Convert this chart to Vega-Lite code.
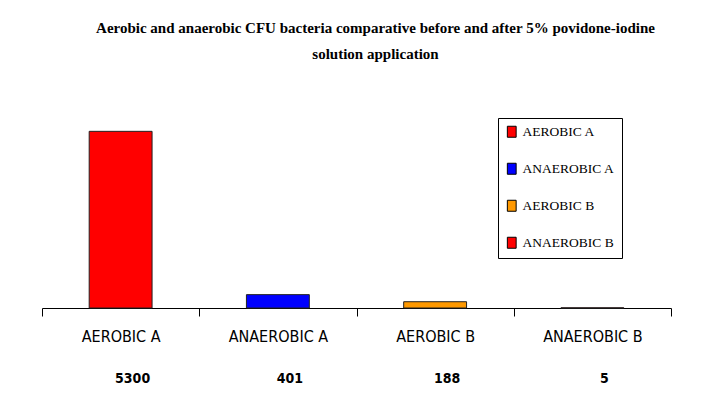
{
  "$schema": "https://vega.github.io/schema/vega-lite/v6.json",
  "width": 629,
  "height": 200,
  "padding": {"left": 41, "top": 21, "right": 50, "bottom": 5},
  "background": "white",
  "title": {
    "text": ["Aerobic and anaerobic CFU bacteria comparative before and after 5% povidone-iodine", "solution application"],
    "font": "Liberation Serif",
    "fontSize": 15,
    "fontWeight": "bold",
    "lineHeight": 26,
    "offset": 46,
    "dx": 19,
    "anchor": "middle",
    "color": "black"
  },
  "data": {
    "values": [
      {"group": "AEROBIC A", "cfu": 5300},
      {"group": "ANAEROBIC A", "cfu": 401},
      {"group": "AEROBIC B", "cfu": 188},
      {"group": "ANAEROBIC B", "cfu": 5}
    ]
  },
  "config": {
    "view": {"stroke": null},
    "axis": {"grid": false}
  },
  "encoding": {
    "x": {
      "field": "group",
      "type": "nominal",
      "sort": null,
      "scale": {"paddingInner": 0, "paddingOuter": 0},
      "axis": {
        "title": null,
        "labelAngle": 0,
        "labelFont": "DejaVu Sans Condensed, Liberation Sans",
        "labelFontSize": 16,
        "labelColor": "black",
        "labelPadding": 12,
        "ticks": true,
        "tickBand": "extent",
        "tickSize": 8,
        "tickWidth": 1,
        "tickColor": "black",
        "tickOpacity": 1,
        "domainColor": "black",
        "domainWidth": 1
      }
    }
  },
  "layer": [
    {
      "mark": {"type": "bar", "stroke": "#222222", "strokeWidth": 1, "width": {"band": 0.4}},
      "encoding": {
        "y": {"field": "cfu", "type": "quantitative", "scale": {"domain": [0, 6000]}, "axis": null},
        "color": {
          "field": "group",
          "type": "nominal",
          "sort": null,
          "scale": {
            "domain": ["AEROBIC A", "ANAEROBIC A", "AEROBIC B", "ANAEROBIC B"],
            "range": ["#FF0000", "#0000FF", "#FF9900", "#FF0000"]
          },
          "legend": {
            "title": null,
            "orient": "none",
            "legendX": 456,
            "legendY": 10,
            "strokeColor": "black",
            "fillColor": "white",
            "padding": 7,
            "rowPadding": 21,
            "labelFont": "Liberation Serif",
            "labelFontSize": 13.5,
            "labelColor": "black",
            "labelOffset": 4,
            "symbolType": "M-0.8,-1H0.8V1H-0.8Z",
            "symbolSize": 121,
            "symbolStrokeColor": "black",
            "symbolStrokeWidth": 1,
            "symbolOpacity": 1
          }
        }
      }
    },
    {
      "mark": {"type": "text", "font": "DejaVu Sans Condensed, Liberation Sans", "fontSize": 14, "fontWeight": "bold", "color": "black", "dy": 71, "dx": 12, "baseline": "middle"},
      "encoding": {
        "y": {"datum": 0, "type": "quantitative"},
        "text": {"field": "cfu", "type": "quantitative", "format": "d"}
      }
    }
  ]
}
